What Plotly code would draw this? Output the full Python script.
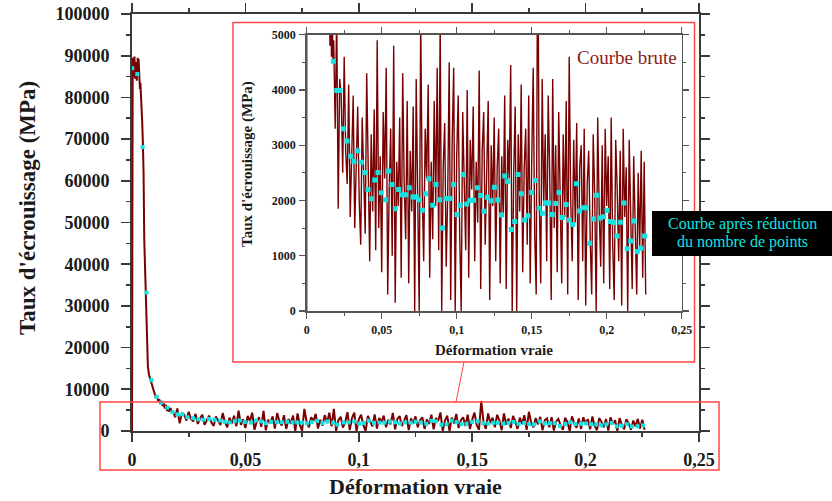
import plotly.graph_objects as go

# Canvas size (the page body margin is removed by a small post-script).
W, H = 832, 501
OFF = 0
FW, FH = W - OFF, H - OFF


def fx(p):
    return (p - OFF) / FW


def fy(p):
    return 1 - (p - OFF) / FH


# ---------------- data ----------------
# Raw curve ("Courbe brute") - initial part
raw_strain_head = [0, 0.0001, 0.0003, 0.0005, 0.0007, 0.0009, 0.0011, 0.0013, 0.0015, 0.0017,
                   0.0019, 0.0021, 0.0023, 0.0025, 0.0027, 0.0029, 0.0031, 0.0033, 0.0035, 0.0037,
                   0.0039, 0.0041, 0.0043, 0.0045, 0.0048, 0.0051, 0.0054, 0.0057, 0.0060, 0.0063,
                   0.0066, 0.0070, 0.0075, 0.0080, 0.0085, 0.0090, 0.0095, 0.0100, 0.0105, 0.0110,
                   0.0115, 0.0120, 0.0125, 0.0130, 0.0135, 0.0140, 0.0145, 0.0150, 0.0155, 0.0160,
                   0.0165, 0.0170, 0.0175]
raw_stress_head = [0, 88000, 89500, 85000, 89000, 87000, 89800, 84500, 88500, 86000,
                   85000, 84000, 86500, 89500, 88000, 89200, 84500, 86000, 82000, 83500,
                   79500, 81000, 78000, 74000, 69000, 62000, 46000, 40000, 35000, 28000,
                   20000, 15500, 13500, 12500, 11500, 10500, 9500, 8800, 8000, 8600,
                   7200, 7600, 6500, 7200, 6000, 6600, 5400, 6300, 4800, 5800,
                   4600, 5500, 4500]

# Raw curve - noisy part (strain in per mille)
raw_strain_tail_permille = [
    18, 19, 20, 21, 22, 23, 24, 25, 26, 27,
    28, 29, 30, 31, 32, 33, 34, 35, 36, 37,
    38, 39, 40, 41, 42, 43, 44, 45, 46, 47,
    48, 49, 50, 51, 52, 53, 54, 55, 56, 57,
    58, 59, 60, 61, 62, 63, 64, 65, 66, 67,
    68, 69, 70, 71, 72, 73, 74, 75, 76, 77,
    78, 79, 80, 81, 82, 83, 84, 85, 86, 87,
    88, 89, 90, 91, 92, 93, 94, 95, 96, 97,
    98, 99, 100, 101, 102, 103, 104, 105, 106, 107,
    108, 109, 110, 111, 112, 113, 114, 115, 116, 117,
    118, 119, 120, 121, 122, 123, 124, 125, 126, 127,
    128, 129, 130, 131, 132, 133, 134, 135, 136, 137,
    138, 139, 140, 141, 142, 143, 144, 145, 146, 147,
    148, 149, 150, 151, 152, 153, 154, 155, 156, 157,
    158, 159, 160, 161, 162, 163, 164, 165, 166, 167,
    168, 169, 170, 171, 172, 173, 174, 175, 176, 177,
    178, 179, 180, 181, 182, 183, 184, 185, 186, 187,
    188, 189, 190, 191, 192, 193, 194, 195, 196, 197,
    198, 199, 200, 201, 202, 203, 204, 205, 206, 207,
    208, 209, 210, 211, 212, 213, 214, 215, 216, 217,
    218, 219, 220, 221, 222, 223, 224, 225, 226]
raw_stress_tail = [
    4900, 3300, 5400, 1850, 4200, 3900, 2500, 4600, 2900, 2300,
    4100, 1700, 3000, 3900, 1500, 2600, 3700, 2000, 1200, 3500,
    2600, 1400, 4300, 2100, 900, 3200, 1800, 3650, 1100, 4900,
    1500, 2800, 700, 3600, 2400, 4400, 300, 2200, 3300, 1000,
    4800, 150, 2700, 1900, 3500, 600, 4300, 2300, 1300, 3800,
    500, 2900, 1800, 3700, 0, 4200, 1500, 0, 5300, 2200,
    900, 3300, 2400, 4100, 600, 2700, 1300, 3800, 1900, 4400,
    1100, 5300, 0, 2600, 3400, 800, 2100, 4500, 200, 3100,
    4400, 0, 2800, 3900, 1400, 0, 3600, 2500, 1100, 4000,
    600, 3100, 2200, 3700, 900, 2700, 1600, 4350, 400, 2900,
    3600, 1200, 2400, 3800, 200, 3000, 1900, 3500, 900, 2600,
    3300, 500, 2800, 1700, 3900, 400, 3100, 2400, 4450, 0,
    2500, 3700, 0, 3200, 1800, 4100, 700, 2600, 3300, 1200,
    3900, 500, 2700, 4400, 1400, 300, 7200, 2100, 500, 4200,
    1900, 3200, 900, 3900, 2500, 200, 4200, 1500, 3000, 700,
    3600, 2300, 500, 3200, 1700, 3800, 300, 4600, 2000, 900,
    3100, 1600, 3400, 200, 2600, 3000, 900, 3300, 100, 2300,
    2900, 1300, 300, 3200, 2100, 0, 3500, 1800, 800, 3000,
    500, 3300, 1900, 2800, 400, 3500, 1200, 200, 3100, 2200,
    900, 2900, 100, 3300, 1700, 2600, 0, 3100, 1400, 400,
    2800, 1800, 300, 2500, 1100, 2900, 600, 2700, 300]

raw_strain = raw_strain_head + [v / 1000 for v in raw_strain_tail_permille]
raw_stress = raw_stress_head + raw_stress_tail

# Reduced curve ("Courbe après réduction du nombre de points")
red_strain = [0.0001, 0.0023, 0.0047, 0.0064, 0.0086, 0.0108, 0.0129, 0.0155,
              0.0178, 0.0200, 0.0222, 0.0244, 0.0269, 0.0293, 0.0315, 0.0340, 0.0364, 0.0389,
              0.0409, 0.0431, 0.0453, 0.0475, 0.0497, 0.0524, 0.0547, 0.0569, 0.0591, 0.0613,
              0.0638, 0.0660, 0.0684, 0.0708, 0.0729, 0.0749, 0.0771, 0.0793, 0.0815, 0.0840,
              0.0862, 0.0887, 0.0905, 0.0933, 0.0955, 0.0980, 0.1002, 0.1022, 0.1044, 0.1067,
              0.1091, 0.1113, 0.1138, 0.1160, 0.1182, 0.1204, 0.1229, 0.1251, 0.1273, 0.1298,
              0.1320, 0.1340, 0.1364, 0.1387, 0.1409, 0.1431, 0.1453, 0.1475, 0.1500, 0.1524,
              0.1549, 0.1571, 0.1593, 0.1613, 0.1637, 0.1660, 0.1682, 0.1704, 0.1729, 0.1751,
              0.1773, 0.1798, 0.1820, 0.1843, 0.1863, 0.1887, 0.1911, 0.1933, 0.1955, 0.1980,
              0.2002, 0.2024, 0.2047, 0.2069, 0.2091, 0.2115, 0.2137, 0.2160, 0.2182, 0.2204,
              0.2229, 0.2253]
red_stress = [87000, 85600, 68100, 33200, 12200, 8200, 6800, 5600,
              4520, 3990, 3990, 3300, 3075, 2800, 2705, 2900, 2690, 2505,
              2200, 2030, 2370, 2505, 2140, 2015, 2535, 2290, 1850, 2200,
              2105, 2105, 2230, 2065, 2065, 2015, 1825, 2120, 2395, 1915,
              2290, 2015, 1500, 2035, 2035, 2290, 1745, 1915, 2470, 1935,
              2005, 2005, 2230, 2090, 1805, 2060, 1995, 2240, 2010, 1735,
              2445, 2345, 1475, 1620, 2470, 2120, 1645, 1725, 2145, 2360,
              1860, 1770, 1955, 1955, 1745, 1945, 2145, 1690, 1925, 1645,
              1565, 2305, 1810, 1870, 1870, 1225, 1665, 2095, 1685, 1705,
              1820, 1620, 1600, 1355, 1605, 1955, 1125, 1265, 1630, 1075,
              1135, 1355]

main_xticks = [0, 0.05, 0.1, 0.15, 0.2, 0.25]
main_xticklabels = ["0", "0,05", "0,1", "0,15", "0,2", "0,25"]
main_yticks = [0, 10000, 20000, 30000, 40000, 50000, 60000, 70000, 80000, 90000, 100000]
main_yticklabels = ["0", "10000", "20000", "30000", "40000", "50000", "60000",
                    "70000", "80000", "90000", "100000"]
inset_yticks = [0, 1000, 2000, 3000, 4000, 5000]
inset_yticklabels = ["0", "1000", "2000", "3000", "4000", "5000"]

x_title = "Déformation vraie"
y_title = "Taux d'écrouissage (MPa)"
raw_label = "Courbe brute"
red_label_lines = ["Courbe après réduction", "du nombre de points"]

# ---------------- style ----------------
RAW_COLOR = "#780000"
CYAN = "#12e3e3"
FRAME_RED = "#ff4545"
SERIF = "Liberation Serif"

fig = go.Figure()

fig.add_trace(go.Scatter(x=raw_strain, y=raw_stress, mode="lines",
                         line=dict(color=RAW_COLOR, width=2), xaxis="x", yaxis="y",
                         name=raw_label, hoverinfo="skip"))
fig.add_trace(go.Scatter(x=red_strain, y=red_stress, mode="markers",
                         marker=dict(color=CYAN, size=4, symbol="square"),
                         xaxis="x", yaxis="y", name="réduite"))
fig.add_trace(go.Scatter(x=raw_strain, y=raw_stress, mode="lines",
                         line=dict(color=RAW_COLOR, width=1.4), xaxis="x2", yaxis="y2",
                         name=raw_label, hoverinfo="skip"))
fig.add_trace(go.Scatter(x=red_strain, y=red_stress, mode="markers",
                         marker=dict(color=CYAN, size=5, symbol="square"),
                         xaxis="x2", yaxis="y2", name="réduite"))


def axis_style(line_w, color, ticklen, font_size, standoff):
    return dict(showgrid=False, zeroline=False, showline=True, linecolor=color,
                linewidth=line_w, mirror="allticks", ticks="outside", ticklen=ticklen,
                tickwidth=line_w * 0.8, tickcolor=color, automargin=False,
                tickfont=dict(family=SERIF, size=font_size, color="#1a1a1a", weight="bold"),
                ticklabelstandoff=standoff, ticklabeloverflow="allow",
                tickmode="array", fixedrange=True)


main_x = axis_style(2, "#3a3a3a", 9, 18, 2)
main_x.update(domain=[fx(132), fx(699)], range=[0, 0.25], anchor="y",
              tickvals=main_xticks, ticktext=main_xticklabels,
              minor=dict(dtick=0.025, tick0=0, ticklen=4, tickcolor="#3a3a3a", ticks="outside"))
main_y = axis_style(2, "#3a3a3a", 9, 18, 8)
main_y.update(domain=[fy(431), fy(14)], range=[0, 100000], anchor="x",
              tickvals=main_yticks, ticktext=main_yticklabels,
              minor=dict(dtick=5000, tick0=0, ticklen=4, tickcolor="#3a3a3a", ticks="outside"))
in_x = axis_style(1.5, "#555555", 6, 12, 1)
in_x.update(domain=[fx(306.7), fx(681.7)], range=[0, 0.25], anchor="y2",
            tickvals=main_xticks, ticktext=main_xticklabels,
            minor=dict(dtick=0.025, tick0=0, ticklen=3, tickcolor="#555555", ticks="outside"))
in_y = axis_style(1.5, "#555555", 6, 12, 1)
in_y.update(domain=[fy(311), fy(34.7)], range=[0, 5000], anchor="x2",
            tickvals=inset_yticks, ticktext=inset_yticklabels,
            minor=dict(dtick=500, tick0=0, ticklen=3, tickcolor="#555555", ticks="outside"))

shapes = [
    dict(type="rect", xref="paper", yref="paper", x0=fx(233), x1=fx(694.5), y0=fy(362), y1=fy(22.5),
         line=dict(color=FRAME_RED, width=1.5), fillcolor="rgba(0,0,0,0)", layer="above"),
    dict(type="rect", xref="paper", yref="paper", x0=fx(100), x1=fx(719), y0=fy(470), y1=fy(402),
         line=dict(color=FRAME_RED, width=1.5), fillcolor="rgba(0,0,0,0)", layer="above"),
    dict(type="line", xref="paper", yref="paper", x0=fx(464), x1=fx(456), y0=fy(362), y1=fy(402),
         line=dict(color=FRAME_RED, width=1), layer="above"),
    dict(type="rect", xref="paper", yref="paper", x0=fx(652), x1=fx(832), y0=fy(256), y1=fy(211),
         line=dict(color="black", width=0), fillcolor="black", layer="above"),
]

annotations = [
    dict(text=x_title, xref="paper", yref="paper", x=fx(415.5), y=fy(486), showarrow=False,
         xanchor="center", yanchor="middle", font=dict(family=SERIF, size=22, color="#1a1a1a", weight="bold")),
    dict(text=y_title, xref="paper", yref="paper", x=fx(27), y=fy(208), showarrow=False, textangle=-90,
         xanchor="center", yanchor="middle", font=dict(family=SERIF, size=23, color="#1a1a1a", weight="bold")),
    dict(text=x_title, xref="paper", yref="paper", x=fx(494), y=fy(350), showarrow=False,
         xanchor="center", yanchor="middle", font=dict(family=SERIF, size=15, color="#1a1a1a", weight="bold")),
    dict(text=y_title, xref="paper", yref="paper", x=fx(247), y=fy(164), showarrow=False, textangle=-90,
         xanchor="center", yanchor="middle", font=dict(family=SERIF, size=15, color="#1a1a1a", weight="bold")),
    dict(text=raw_label, xref="paper", yref="paper", x=fx(627), y=fy(57), showarrow=False,
         xanchor="center", yanchor="middle", font=dict(family=SERIF, size=19, color="#8b1a1a")),
    dict(text=red_label_lines[0], xref="paper", yref="paper", x=fx(742), y=fy(224), showarrow=False,
         xanchor="center", yanchor="middle", font=dict(family=SERIF, size=16, color=CYAN)),
    dict(text=red_label_lines[1], xref="paper", yref="paper", x=fx(742), y=fy(242), showarrow=False,
         xanchor="center", yanchor="middle", font=dict(family=SERIF, size=16, color=CYAN)),
]

fig.update_layout(
    width=FW, height=FH, margin=dict(l=0, r=0, t=0, b=0),
    paper_bgcolor="white", plot_bgcolor="white", showlegend=False,
    xaxis=main_x, yaxis=main_y, xaxis2=in_x, yaxis2=in_y,
    shapes=shapes, annotations=annotations,
)

fig.write_html("out.html", config={"displayModeBar": False, "staticPlot": True},
               post_script="document.body.style.margin='0';")
